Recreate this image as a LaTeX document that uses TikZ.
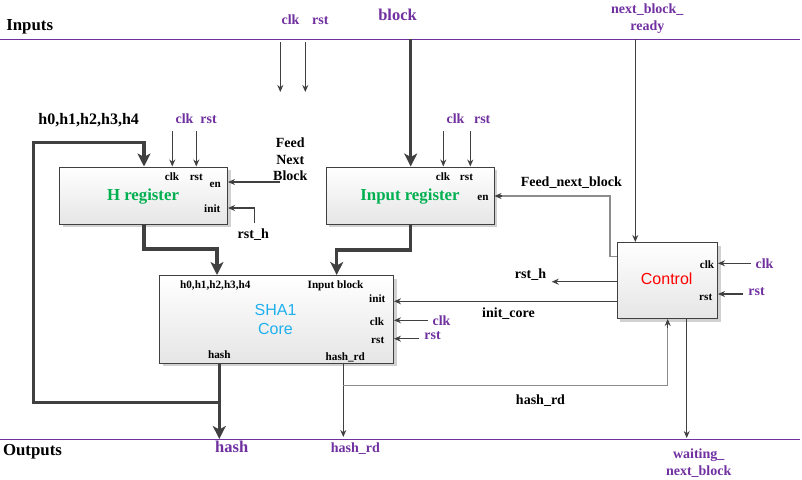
\documentclass[tikz,border=0pt]{standalone}
\usepackage{fontspec}
\setmainfont{Liberation Serif}
\newfontfamily\sansf{Liberation Sans}
\usetikzlibrary{arrows.meta,shadows,calc}
\definecolor{pur}{HTML}{7030A0}
\definecolor{grn}{HTML}{00B050}
\definecolor{sky}{HTML}{1FB0EE}
\definecolor{ln}{HTML}{404040}
\definecolor{lg}{HTML}{8C8C8C}
\newcommand{\fs}[1]{\fontsize{#1}{#1}\selectfont}
\tikzset{
  blk/.style={draw=ln, line width=1pt, top color=white, bottom color=gray!20,
    drop shadow={shadow xshift=3pt, shadow yshift=-3pt, fill=gray!60, opacity=0.6},
    inner sep=0pt},
  lbl/.style={inner sep=0pt, text height=0.7em, text depth=0.2em, yshift=-2.7pt, font=\bfseries\fs{14}},
  small/.style={lbl, font=\bfseries\fs{11.2}},
  plbl/.style={lbl, text=pur},
  thin/.style={draw=ln, line width=1.1pt, -{Stealth[length=7pt,width=6pt]}},
  thinl/.style={draw=lg, line width=1.1pt},
  thick/.style={draw=ln, line width=3.2pt, line join=miter, -{Stealth[length=13pt,width=13pt,inset=3.5pt]}},
  pline/.style={draw=pur, line width=1pt},
}
\begin{document}
\begin{tikzpicture}[x=1pt,y=-1pt]
\useasboundingbox (0,0) rectangle (802,479);
% rails
\coordinate (inL) at (0,39.3); \coordinate (inR) at (800,39.3);
\coordinate (outL) at (0,439.3); \coordinate (outR) at (800,439.3);
\draw[pline] (inL) -- (inR);
\draw[pline] (outL) -- (outR);
\node[lbl, font=\bfseries\fs{16.8}] (inputs) at (29.7,25) {Inputs};
\node[lbl, font=\bfseries\fs{16.8}] (outputs) at (32.5,450.5) {Outputs};

% boxes
\node[blk, minimum width=168pt, minimum height=57pt] (hreg) at (143.5,195.5) {};
\node[blk, minimum width=168pt, minimum height=57pt] (inreg) at (410,195.5) {};
\node[blk, minimum width=234pt, minimum height=87.5pt] (sha) at (276.5,319.25) {};
\node[blk, minimum width=100.5pt, minimum height=76pt] (ctrl) at (667.25,280.5) {};

% box titles
\node[lbl, font=\bfseries\fs{16.8}, text=grn] (htitle) at (143,195) {H register};
\node[lbl, font=\bfseries\fs{16.8}, text=grn] (ititle) at (410,195) {Input register};
\node[inner sep=0pt, font=\sansf\fs{16}, text=sky, align=center] (stitle) at (275.5,319.5) {SHA1\\[3.5pt]Core};
\node[lbl, font=\sansf\fs{16}, text=red] (ctitle) at (666.7,279.5) {Control};

% small labels in boxes
\node[small] (hclk) at (172,175.5) {clk};
\node[small] (hrst) at (196.3,175.5) {rst};
\node[small] (hen) at (215.3,182) {en};
\node[small] (hinit) at (212.3,207.7) {init};
\node[small] (iclk) at (443,175.5) {clk};
\node[small] (irst) at (466.5,175.5) {rst};
\node[small] (ien) at (483,195) {en};
\node[small] (sh) at (215.3,283.7) {h0,h1,h2,h3,h4};
\node[small] (sib) at (335.5,283.7) {Input block};
\node[small] (sinit) at (377.3,297.5) {init};
\node[small] (sclk) at (377,320.3) {clk};
\node[small] (srst) at (377.7,338.7) {rst};
\node[small] (shash) at (219.3,353.5) {hash};
\node[small] (shrd) at (345.3,355.5) {hash\_rd};
\node[small] (cclk) at (707,263.3) {clk};
\node[small] (crst) at (705.7,295.5) {rst};

% outer labels
\node[plbl] (tclk) at (290.5,19) {clk};
\node[plbl] (trst) at (320.3,19) {rst};
\node[plbl, font=\bfseries\fs{16.5}] (tblock) at (397.5,15) {block};
\node[plbl] (tnbr1) at (647.3,8) {next\_block\_};
\node[plbl] (tnbr2) at (647.3,25.3) {ready};
\node[plbl] (hpclk) at (184.5,118.3) {clk};
\node[plbl] (hprst) at (208.5,118.3) {rst};
\node[plbl] (ipclk) at (455.5,118.3) {clk};
\node[plbl] (iprst) at (482.2,118.3) {rst};
\node[lbl, font=\bfseries\fs{16}] (hvals) at (88.7,119) {h0,h1,h2,h3,h4};
\node[lbl] (feed1) at (290.3,142.3) {Feed};
\node[lbl] (feed2) at (290.3,159) {Next};
\node[lbl] (feed3) at (290.3,175.7) {Block};
\node[lbl] (rsth1) at (253.3,233.3) {rst\_h};
\node[lbl] (fnb) at (571.3,181.3) {Feed\_next\_block};
\node[lbl] (rsth2) at (530.5,273) {rst\_h};
\node[lbl] (initc) at (508.5,312) {init\_core};
\node[plbl] (spclk) at (441.5,320) {clk};
\node[plbl] (sprst) at (432.5,334.5) {rst};
\node[lbl] (hrdl) at (540.5,399.3) {hash\_rd};
\node[plbl] (cpclk) at (764.5,263) {clk};
\node[plbl] (cprst) at (756.5,290.7) {rst};
\node[plbl, font=\bfseries\fs{16.5}] (ohash) at (231.7,447.3) {hash};
\node[plbl] (ohrd) at (355.3,447.3) {hash\_rd};
\node[plbl] (owait1) at (698.7,453.3) {waiting\_};
\node[plbl] (owait2) at (698.7,470) {next\_block};

% coordinates for connectors
\coordinate (a1) at (280.3,42.3); \coordinate (a1e) at (280.3,92);
\coordinate (a2) at (305.3,42.3); \coordinate (a2e) at (305.3,92);
\coordinate (blk0) at (410.7,39.3);
\coordinate (nbr0) at (635.3,39.3);
\coordinate (hc0) at (172.3,131); \coordinate (hr0) at (196.3,131);
\coordinate (ic0) at (443.3,131); \coordinate (ir0) at (470.3,131);
\coordinate (hen0) at (280,182);
\coordinate (hin0) at (254.7,223); \coordinate (hin1) at (254.7,208);
\coordinate (fb0) at (219.3,402.7); \coordinate (fb1) at (33.3,402.7);
\coordinate (fb2) at (33.3,142.7); \coordinate (fb3) at (144,142.7);
\coordinate (ho1) at (144,249); \coordinate (ho2) at (217,249);
\coordinate (io1) at (410.7,250); \coordinate (io2) at (336.7,250);
\coordinate (fn1) at (610,256.7); \coordinate (fn2) at (610,196);
\coordinate (fn3) at (502,196);
\coordinate (rh1) at (551.7,281.7);
\coordinate (ic1) at (617,301.3);
\coordinate (sc0) at (428,320.3); \coordinate (sr0) at (419,338.7);
\coordinate (hs1) at (219.3,439);
\coordinate (hd1) at (343.3,437); \coordinate (hd2) at (343.3,385.3);
\coordinate (hd3) at (667.7,385.3); \coordinate (hd4) at (667.7,328);
\coordinate (wt0) at (686.7,318.5); \coordinate (wt1) at (686.7,438);
\coordinate (cc0) at (751,263.3); \coordinate (cr0) at (743,294);

% connectors
\draw[thin] (a1) -- (a1e);
\draw[thin] (a2) -- (a2e);
\draw[thick] (blk0) -- (blk0 |- inreg.north);
\draw[thin] (nbr0) -- (nbr0 |- ctrl.north);
\draw[thin] (hc0) -- (hc0 |- hreg.north);
\draw[thin] (hr0) -- (hr0 |- hreg.north);
\draw[thin] (ic0) -- (ic0 |- inreg.north);
\draw[thin] (ir0) -- (ir0 |- inreg.north);
\draw[thin] (hen0) -- (hen0 -| hreg.east);
\draw[thin] (hin0) -- (hin1) -- (hin1 -| hreg.east);
\draw[thick] (fb0) -- (fb1) -- (fb2) -- (fb3) -- (fb3 |- hreg.north);
\draw[thick] (ho1 |- hreg.south) -- (ho1) -- (ho2) -- (ho2 |- sha.north);
\draw[thick] (io1 |- inreg.south) -- (io1) -- (io2) -- (io2 |- sha.north);
\draw[thinl] (fn1 -| ctrl.west) -- (fn1) -- (fn2) -- (fn3);
\draw[thin] (fn3) -- (fn3 -| inreg.east);
\draw[thin] (rh1 -| ctrl.west) -- (rh1);
\draw[thin] (ic1 -| ctrl.west) -- (ic1 -| sha.east);
\draw[thin] (sc0) -- (sc0 -| sha.east);
\draw[thin] (sr0) -- (sr0 -| sha.east);
\draw[thick] (hs1 |- sha.south) -- (hs1);
\draw[thin] (hd1 |- sha.south) -- (hd1);
\draw[thinl] (hd2) -- (hd3) -- (hd4);
\draw[thin] (hd4) -- (hd4 |- ctrl.south);
\draw[thin] (wt0) -- (wt1);
\draw[thin] (cc0) -- (cc0 -| ctrl.east);
\draw[thin] (cr0) -- (cr0 -| ctrl.east);
\end{tikzpicture}
\end{document}
